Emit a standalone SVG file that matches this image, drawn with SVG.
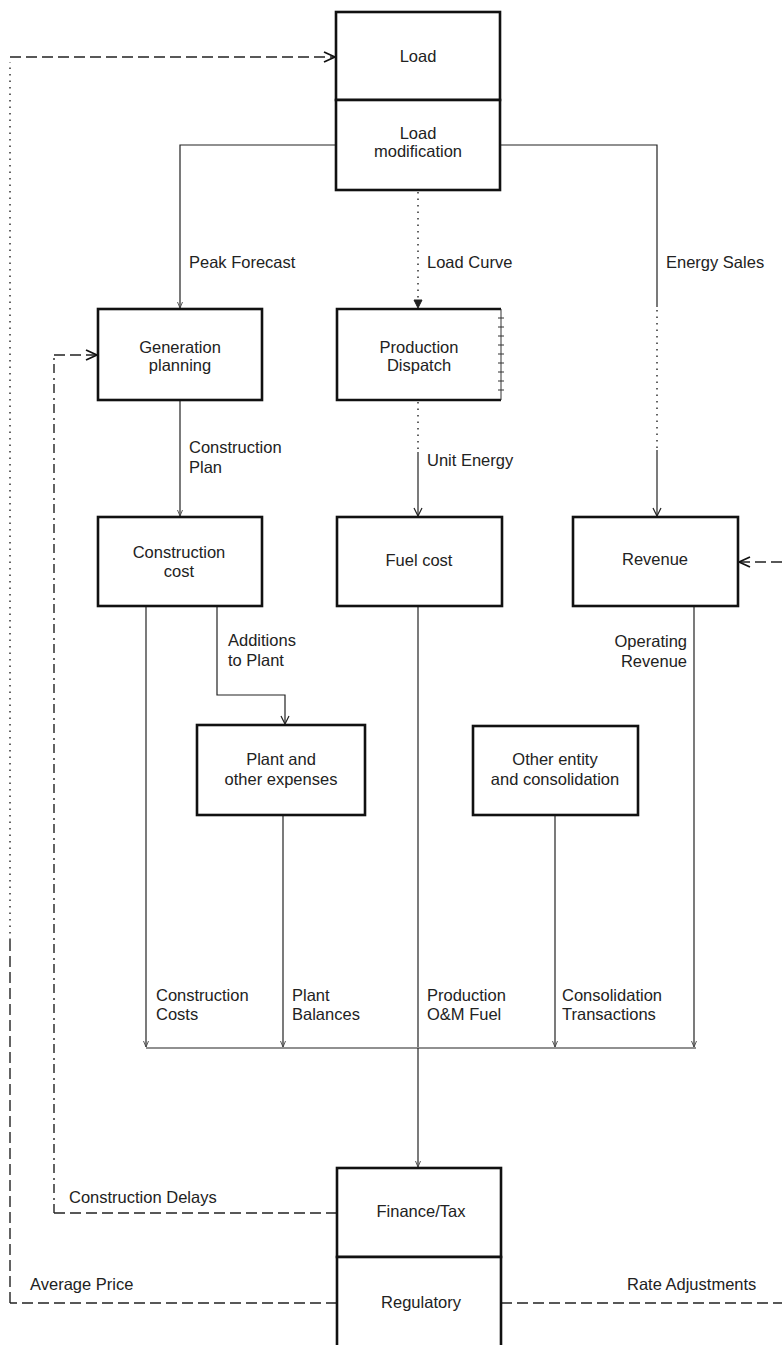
<svg xmlns="http://www.w3.org/2000/svg" width="782" height="1345" viewBox="0 0 782 1345">
<style>
.box{fill:#fff;stroke:#111;stroke-width:2.6}
.t{font-family:"Liberation Sans",Arial,sans-serif;font-size:16.5px;fill:#222}
.c{text-anchor:middle}
.e{text-anchor:end}
.ln{fill:none;stroke:#222;stroke-width:1.2}
.dot{fill:none;stroke:#222;stroke-width:1.4;stroke-dasharray:1.5,5}
.dash{fill:none;stroke:#222;stroke-width:1.4;stroke-dasharray:11,5}
.dd{fill:none;stroke:#222;stroke-width:1.4;stroke-dasharray:9,4,2,5}
</style>
<defs>
<marker id="big" markerWidth="14" markerHeight="12" refX="12" refY="6" orient="auto" markerUnits="userSpaceOnUse">
<path d="M1,1 L12,6 L1,11" fill="none" stroke="#111" stroke-width="1.8"/>
</marker>
<marker id="sm" markerWidth="10" markerHeight="10" refX="9" refY="5" orient="auto" markerUnits="userSpaceOnUse">
<path d="M1,1 L9,5 L1,9" fill="none" stroke="#222" stroke-width="1.2"/>
</marker>
<marker id="fill" markerWidth="10" markerHeight="10" refX="9" refY="5" orient="auto" markerUnits="userSpaceOnUse">
<path d="M1,1 L9,5 L1,9 Z" fill="#222" stroke="#222" stroke-width="1"/>
</marker>
<marker id="tiny" markerWidth="8" markerHeight="8" refX="7" refY="4" orient="auto" markerUnits="userSpaceOnUse">
<path d="M1,1.5 L7,4 L1,6.5" fill="none" stroke="#444" stroke-width="0.9"/>
</marker>
</defs>

<g id="connectors">
<!-- Load modification to Generation planning -->
<path class="ln" d="M336,145 H180 V308" marker-end="url(#tiny)"/>
<!-- Load modification to Revenue -->
<path class="ln" d="M500,145 H657 V307"/>
<path class="dot" d="M657,310 V450"/>
<path class="ln" d="M657,450 V516" marker-end="url(#sm)"/>
<!-- Load curve -->
<path class="dot" d="M418,192 V308" marker-end="url(#fill)"/>
<!-- Construction plan -->
<path class="ln" d="M180,400 V516" marker-end="url(#tiny)"/>
<!-- Unit energy -->
<path class="dot" d="M418,402 V452"/>
<path class="ln" d="M418,452 V516" marker-end="url(#sm)"/>
<!-- Additions to plant -->
<path class="ln" d="M217,606 V695 H285 V724" marker-end="url(#sm)"/>
<!-- Lines to bus -->
<path class="ln" d="M146,606 V1047" marker-end="url(#tiny)"/>
<path class="ln" d="M283,815 V1047" marker-end="url(#tiny)"/>
<path class="ln" d="M418,606 V1047"/>
<path class="ln" d="M555,815 V1047" marker-end="url(#tiny)"/>
<path class="ln" d="M694,606 V1047" marker-end="url(#tiny)"/>
<path class="ln" d="M146,1048 H696"/>
<path class="ln" d="M418,1048 V1167" marker-end="url(#tiny)"/>
<!-- Construction delays -->
<path class="dash" d="M337,1213 H54"/>
<path class="dd" d="M54,1213 V355"/>
<path class="dash" d="M54,355 H97" marker-end="url(#big)"/>
<!-- Average price -->
<path class="dash" d="M337,1303 H10"/>
<path class="dash" d="M10,1303 V940"/>
<path class="dot" d="M10,940 V62"/>
<path class="dash" d="M10,57 H335" marker-end="url(#big)"/>
<!-- Rate adjustments -->
<path class="dash" d="M501,1303 H782"/>
<path class="dash" d="M782,562 H739" marker-end="url(#big)"/>
</g>

<g id="load">
<rect class="box" x="336" y="12" width="164" height="88"/>
<text class="t c" x="418" y="62">Load</text>
</g>
<g id="load-modification">
<rect class="box" x="336" y="100" width="164" height="90"/>
<text class="t c" x="418" y="139">Load</text>
<text class="t c" x="418" y="157">modification</text>
</g>
<g id="generation-planning">
<rect class="box" x="98" y="309" width="164" height="91"/>
<text class="t c" x="180" y="353">Generation</text>
<text class="t c" x="180" y="371">planning</text>
</g>
<g id="production-dispatch">
<path d="M501,309 H337 V400 H501" fill="#fff" stroke="#111" stroke-width="2.6"/>
<path d="M501,309 V400" fill="none" stroke="#333" stroke-width="1"/>
<path d="M498,318 H504 M498,327 H504 M498,336 H504 M498,345 H504 M498,354 H504 M498,363 H504 M498,372 H504 M498,381 H504 M498,390 H504" fill="none" stroke="#333" stroke-width="1"/>
<text class="t c" x="419" y="353">Production</text>
<text class="t c" x="419" y="371">Dispatch</text>
</g>
<g id="construction-cost">
<rect class="box" x="98" y="517" width="164" height="89"/>
<text class="t c" x="179" y="558">Construction</text>
<text class="t c" x="179" y="577">cost</text>
</g>
<g id="fuel-cost">
<rect class="box" x="337" y="517" width="165" height="89"/>
<text class="t c" x="419" y="566">Fuel cost</text>
</g>
<g id="revenue">
<rect class="box" x="573" y="517" width="165" height="89"/>
<text class="t c" x="655" y="565">Revenue</text>
</g>
<g id="plant-and-other-expenses">
<rect class="box" x="197" y="725" width="168" height="90"/>
<text class="t c" x="281" y="765">Plant and</text>
<text class="t c" x="281" y="785">other expenses</text>
</g>
<g id="other-entity">
<rect class="box" x="473" y="726" width="165" height="89"/>
<text class="t c" x="555" y="765">Other entity</text>
<text class="t c" x="555" y="785">and consolidation</text>
</g>
<g id="finance-tax">
<rect class="box" x="337" y="1168" width="164" height="89"/>
<text class="t c" x="421" y="1217">Finance/Tax</text>
</g>
<g id="regulatory">
<rect class="box" x="337" y="1257" width="164" height="100"/>
<text class="t c" x="421" y="1308">Regulatory</text>
</g>

<g id="labels">
<text class="t" x="189" y="268">Peak Forecast</text>
<text class="t" x="427" y="268">Load Curve</text>
<text class="t" x="666" y="268">Energy Sales</text>
<text class="t" x="189" y="453">Construction</text>
<text class="t" x="189" y="473">Plan</text>
<text class="t" x="427" y="466">Unit Energy</text>
<text class="t" x="228" y="646">Additions</text>
<text class="t" x="228" y="666">to Plant</text>
<text class="t e" x="687" y="647">Operating</text>
<text class="t e" x="687" y="667">Revenue</text>
<text class="t" x="156" y="1001">Construction</text>
<text class="t" x="156" y="1020">Costs</text>
<text class="t" x="292" y="1001">Plant</text>
<text class="t" x="292" y="1020">Balances</text>
<text class="t" x="427" y="1001">Production</text>
<text class="t" x="427" y="1020">O&amp;M Fuel</text>
<text class="t" x="562" y="1001">Consolidation</text>
<text class="t" x="562" y="1020">Transactions</text>
<text class="t" x="69" y="1203">Construction Delays</text>
<text class="t" x="30" y="1290">Average Price</text>
<text class="t" x="627" y="1290">Rate Adjustments</text>
</g>
</svg>
